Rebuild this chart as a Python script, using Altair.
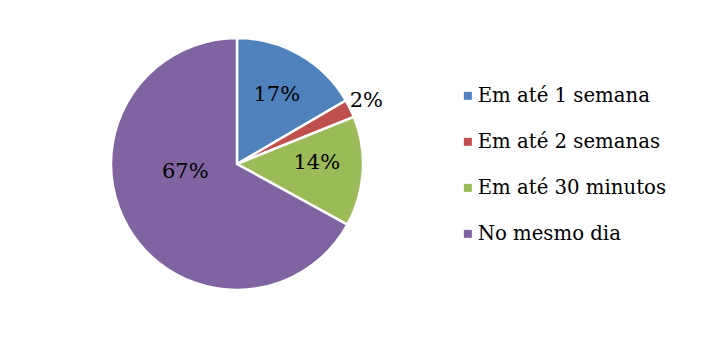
import altair as alt
import pandas as pd

categories = ["Em até 1 semana", "Em até 2 semanas", "Em até 30 minutos", "No mesmo dia"]
values = [16.6, 2.3, 14.1, 67.0]
labels = ["17%", "2%", "14%", "67%"]
colors = ["#4F81BD", "#C0504D", "#9BBB59", "#8064A2"]

df = pd.DataFrame({"cat": categories, "val": values, "label": labels, "idx": list(range(4))})

FONT = "DejaVu Serif"
CX, CY, R = 237, 164, 126

pie = alt.Chart(df).mark_arc(radius=R, stroke="white", strokeWidth=2.5, x=CX, y=CY).encode(
    theta=alt.Theta("val:Q", stack=True),
    order=alt.Order("idx:Q"),
    color=alt.Color(
        "cat:N",
        scale=alt.Scale(domain=categories, range=colors),
        legend=alt.Legend(
            title=None,
            orient="none",
            legendX=458,
            legendY=86,
            labelFont=FONT,
            labelFontSize=19.7,
            labelColor="black",
            labelLimit=400,
            symbolType="square",
            symbolSize=64,
            symbolStrokeWidth=0,
            rowPadding=25,
            labelOffset=0,
        ),
    ),
)

st = alt.Chart(df).transform_window(
    cum="sum(val)", sort=[alt.SortField("idx")]
).transform_calculate(
    mid="(datum.cum - datum.val/2) / 100 * 2 * PI"
)

def lab(name, radius, dy=0):
    return st.transform_filter(alt.datum.cat == name).mark_text(
        radius=radius, x=CX, y=CY, dy=dy, font=FONT, fontSize=21, color="black"
    ).encode(theta=alt.Theta("mid:Q", scale=None), text="label:N")

chart = alt.layer(
    pie,
    lab("Em até 1 semana", 80),
    lab("Em até 2 semanas", 144),
    lab("Em até 30 minutos", 80, -6),
    lab("No mesmo dia", 60, -23),
).properties(
    width=707, height=340, padding=0, autosize=alt.AutoSizeParams(type="none")
).configure_view(stroke=None)

chart.save("out.html", embed_options={"renderer": "svg", "actions": False})
